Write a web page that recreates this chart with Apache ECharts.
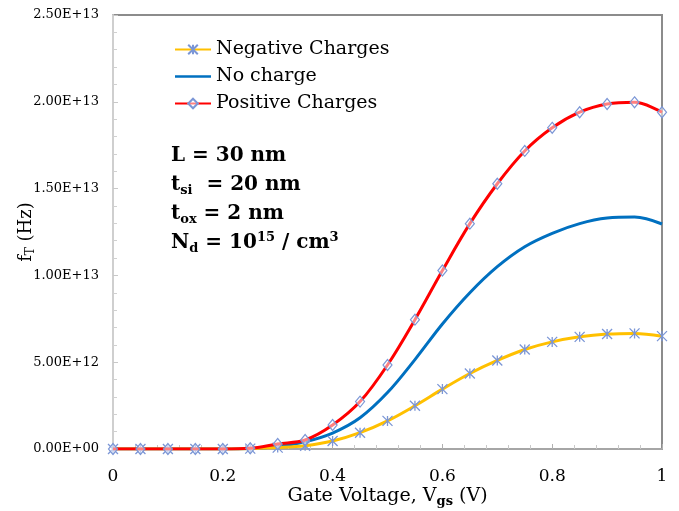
<!DOCTYPE html>
<html>
<head>
<meta charset="utf-8">
<script src="https://cdn.jsdelivr.net/npm/echarts@6/dist/echarts.min.js"></script>
<style>
  html, body { margin: 0; padding: 0; background: #fff; }
  #chart { width: 679px; height: 511px; }
</style>
</head>
<body>
<div id="chart"></div>
<script>
// gate voltage (V)
const vgs = [0, 0.05, 0.1, 0.15, 0.2, 0.25, 0.3, 0.35, 0.4, 0.45, 0.5,
  0.55, 0.6, 0.65, 0.7, 0.75, 0.8, 0.85, 0.9, 0.95, 1.0]
// fT in units of 1E12 Hz
const negative = [0, 0, 0, 0, 0, 0.02, 0.08, 0.19, 0.46, 0.94, 1.62,
  2.49, 3.45, 4.35, 5.1, 5.73, 6.17, 6.46, 6.62, 6.66, 6.5]
const noCharge = [0, 0, 0, 0, 0, 0.03, 0.15, 0.42, 0.92, 1.8, 3.25,
  5.15, 7.2, 9.0, 10.5, 11.65, 12.42, 12.98, 13.3, 13.36, 12.96]
const positive = [0, 0, 0, 0, 0, 0.04, 0.29, 0.52, 1.38, 2.73, 4.84,
  7.45, 10.28, 12.98, 15.28, 17.17, 18.5, 19.4, 19.87, 19.97, 19.4]

const serif = "'DejaVu Serif', 'Liberation Serif', serif"
const markerColor = '#7b96d6'

function pairs(ys) {
  return vgs.map((x, i) => [x, ys[i] * 1e12])
}

function sci(v) {
  if (v === 0) return '0.00E+00'
  const [m, e] = v.toExponential(2).split('e')
  const n = Math.abs(+e)
  return m + 'E' + (+e < 0 ? '-' : '+') + (n < 10 ? '0' + n : n)
}

const chart = echarts.init(document.getElementById('chart'))

const bold = { fontFamily: serif, fontWeight: 'bold', fontSize: 20, color: '#000' }
const sub = { fontFamily: serif, fontWeight: 'bold', fontSize: 13, color: '#000', padding: [12, 0, 0, 0] }
const sup = { fontFamily: serif, fontWeight: 'bold', fontSize: 13, color: '#000', padding: [0, 0, 10, 0] }

chart.setOption({
  animation: false,
  grid: {
    left: 113,
    right: 17,
    top: 15,
    bottom: 62,
    outerBoundsMode: 'none',
    containLabel: false,
    show: true,
    borderColor: '#8c8c8c',
    borderWidth: 2
  },
  legend: {
    orient: 'vertical',
    left: 169,
    top: 35,
    itemWidth: 36,
    itemHeight: 12,
    itemGap: 8,
    textStyle: { fontFamily: serif, fontSize: 19, color: '#000' },
    data: [
      { name: 'Negative Charges' },
      { name: 'No charge', icon: 'path://M0,0L40,0L40,3L0,3Z' },
      { name: 'Positive Charges' }
    ]
  },
  xAxis: {
    type: 'value',
    min: 0,
    max: 1,
    interval: 0.2,
    name: 'Gate Voltage, V{s|gs} (V)',
    nameLocation: 'middle',
    nameMoveOverlap: false,
    nameGap: 36,
    nameTextStyle: {
      fontFamily: serif, fontSize: 19, color: '#000',
      rich: { s: { fontFamily: serif, fontSize: 13, fontWeight: 'bold', color: '#000', padding: [10, 0, 0, 0] } }
    },
    axisLine: { lineStyle: { color: '#a6a6a6', width: 2 } },
    axisTick: { inside: true, length: 5, lineStyle: { color: '#b0b0b0' } },
    minorTick: { show: true, splitNumber: 5, length: 4, lineStyle: { color: '#c8c8c8' } },
    axisLabel: { fontFamily: serif, fontSize: 17, color: '#000', margin: 19 },
    splitLine: { show: false }
  },
  yAxis: {
    type: 'value',
    min: 0,
    max: 2.5e13,
    interval: 5e12,
    name: 'f{s|T} (Hz)',
    nameLocation: 'middle',
    nameMoveOverlap: false,
    nameGap: 76,
    nameTextStyle: {
      fontFamily: serif, fontSize: 18, color: '#000',
      rich: { s: { fontFamily: serif, fontSize: 12, color: '#000', padding: [9, 0, 0, 0] } }
    },
    axisLine: { lineStyle: { color: '#cfcfcf', width: 2 } },
    axisTick: { inside: true, length: 5, lineStyle: { color: '#c8c8c8' } },
    minorTick: { show: true, splitNumber: 5, length: 4, lineStyle: { color: '#d0d0d0' } },
    axisLabel: { fontFamily: serif, fontSize: 13, color: '#000', margin: 14, formatter: sci },
    splitLine: { show: false }
  },
  graphic: [
    {
      type: 'text',
      left: 171,
      top: 146,
      style: {
        text: [
          '{b|L = 30 nm}',
          '{b|t}{s|si}{b|  = 20 nm}',
          '{b|t}{s|ox}{b| = 2 nm}',
          '{b|N}{s|d}{b| = 10}{p|15}{b| / cm}{p|3}'
        ].join('\n'),
        rich: {
          b: Object.assign({ lineHeight: 29 }, bold),
          s: Object.assign({ lineHeight: 29 }, sub),
          p: Object.assign({ lineHeight: 29 }, sup)
        }
      }
    }
  ],
  series: [
    {
      name: 'Negative Charges',
      type: 'line',
      smooth: 0.35,
      data: pairs(negative),
      symbol: 'path://M0,0L10,10M10,0L0,10M5,0L5,10',
      symbolSize: 10,
      lineStyle: { color: '#ffc000', width: 3 },
      itemStyle: { color: 'rgba(0,0,0,0)', borderColor: markerColor, borderWidth: 1.3 },
      z: 3
    },
    {
      name: 'No charge',
      type: 'line',
      smooth: 0.35,
      data: pairs(noCharge),
      symbol: 'none',
      showSymbol: false,
      lineStyle: { color: '#0070c0', width: 3 },
      itemStyle: { color: '#0070c0' },
      z: 2
    },
    {
      name: 'Positive Charges',
      type: 'line',
      smooth: 0.35,
      data: pairs(positive),
      symbol: 'diamond',
      symbolSize: [9, 11],
      lineStyle: { color: '#ff0000', width: 3 },
      itemStyle: { color: 'rgba(255,255,255,0.5)', borderColor: markerColor, borderWidth: 1.2 },
      z: 4
    }
  ]
})
</script>
</body>
</html>
